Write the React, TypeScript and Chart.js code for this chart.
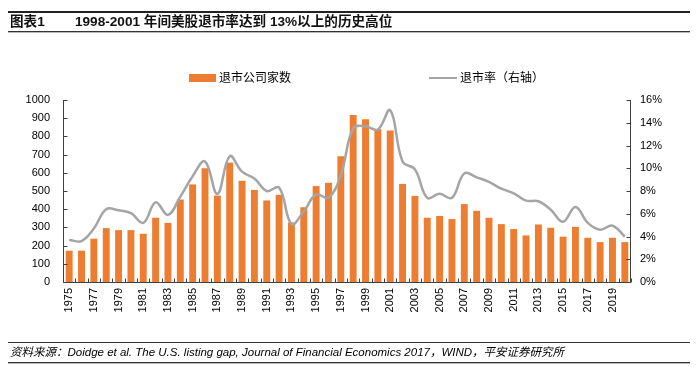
import React, { useEffect, useRef } from "react";
import { Chart, registerables } from "chart.js";
Chart.register(...registerables);

const years = [
  "1975", "1976", "1977", "1978", "1979", "1980", "1981", "1982", "1983", "1984",
  "1985", "1986", "1987", "1988", "1989", "1990", "1991", "1992", "1993", "1994",
  "1995", "1996", "1997", "1998", "1999", "2000", "2001", "2002", "2003", "2004",
  "2005", "2006", "2007", "2008", "2009", "2010", "2011", "2012", "2013", "2014",
  "2015", "2016", "2017", "2018", "2019", "2020",
];

const delistCount = [
  172, 172, 238, 296, 285, 285, 265, 353, 325, 453,
  536, 625, 475, 656, 556, 506, 448, 479, 327, 411,
  527, 545, 691, 918, 894, 839, 832, 539, 473, 353,
  363, 346, 428, 391, 353, 318, 291, 256, 316, 298,
  249, 303, 243, 219, 243, 219,
];

const delistRate = [
  3.7, 3.6, 4.7, 6.4, 6.3, 6.05, 5.2, 7.0, 5.9, 7.5,
  9.3, 10.6, 7.75, 11.05, 9.7, 9.1, 8.0, 8.3, 5.1, 6.2,
  7.7, 7.4, 9.4, 13.5, 13.7, 13.4, 15.1, 10.6, 9.9, 7.4,
  7.75, 7.4, 9.55, 9.2, 8.8, 8.2, 7.8, 7.15, 7.1, 6.35,
  5.3, 6.6, 5.2, 4.6, 4.95, 4.0,
];

const countTicks = [0, 100, 200, 300, 400, 500, 600, 700, 800, 900, 1000];
const rateTicks = [0, 2, 4, 6, 8, 10, 12, 14, 16];

const titleLabel = "图表1";
const titleText = "1998-2001 年间美股退市率达到 13%以上的历史高位";
const legendBar = "退市公司家数";
const legendLine = "退市率（右轴）";
const sourceText =
  "资料来源：Doidge et al. The U.S. listing gap, Journal of Financial Economics 2017，WIND，平安证券研究所";

const FONT = '"Liberation Sans", Arial, "Noto Sans CJK SC", sans-serif';
const CJK = '"Liberation Sans", "Noto Sans CJK SC", sans-serif';
const BAR = "#ED7D31";
const LINE = "#A5A5A5";
const AXIS = "#404040";

const axisPlugin = {
  id: "innerAxis",
  afterDraw(chart: any) {
    const { ctx, chartArea: a, scales } = chart;
    const x = scales.x;
    const y = scales.y;
    const y1 = scales.y1;
    ctx.save();
    ctx.strokeStyle = AXIS;
    ctx.lineWidth = 1;
    ctx.beginPath();
    const L = Math.round(a.left) + 0.5;
    const R = Math.round(a.right) - 0.5;
    const B = Math.round(a.bottom) + 0.5;
    ctx.moveTo(L, a.top);
    ctx.lineTo(L, B);
    ctx.lineTo(R, B);
    ctx.moveTo(R, a.top);
    ctx.lineTo(R, B);
    countTicks.forEach((v) => {
      const py = Math.round(y.getPixelForValue(v)) + 0.5;
      ctx.moveTo(L, py);
      ctx.lineTo(L + 4, py);
    });
    rateTicks.forEach((v) => {
      const py = Math.round(y1.getPixelForValue(v)) + 0.5;
      ctx.moveTo(R, py);
      ctx.lineTo(R - 4, py);
    });
    const n = years.length;
    const step = (a.right - a.left) / n;
    for (let i = 0; i <= n; i++) {
      const px = Math.round(x.getPixelForValue(0) - step / 2 + i * step) + 0.5;
      ctx.moveTo(px, B);
      ctx.lineTo(px, B - 4);
    }
    ctx.stroke();
    ctx.restore();
  },
};

export default function App() {
  const ref = useRef<HTMLCanvasElement>(null);
  useEffect(() => {
    if (!ref.current) return;
    const chart = new Chart(ref.current, {
      type: "bar",
      data: {
        labels: years,
        datasets: [
          {
            type: "line",
            label: legendLine,
            data: delistRate,
            yAxisID: "y1",
            borderColor: LINE,
            borderWidth: 2.5,
            pointRadius: 0,
            tension: 0.4,
            order: 0,
          } as any,
          {
            type: "bar",
            label: legendBar,
            data: delistCount,
            yAxisID: "y",
            backgroundColor: BAR,
            barPercentage: 0.56,
            categoryPercentage: 1,
            order: 1,
          },
        ],
      },
      options: {
        animation: false,
        responsive: false,
        maintainAspectRatio: false,
        layout: { padding: { top: 100, left: 0, right: 0, bottom: 0 } },
        plugins: { legend: { display: false }, tooltip: { enabled: false } },
        scales: {
          x: {
            offset: true,
            grid: { display: false, drawTicks: false },
            border: { display: false },
            ticks: {
              autoSkip: false,
              maxRotation: 90,
              minRotation: 90,
              padding: 6,
              color: "#000",
              font: { family: FONT, size: 11 },
              callback: (_v: any, i: number) => (i % 2 === 0 ? years[i] : ""),
            },
            afterFit: (s: any) => {
              s.height = 87;
            },
          },
          y: {
            position: "left",
            min: 0,
            max: 1000,
            grid: { display: false, drawTicks: false },
            border: { display: false },
            afterBuildTicks: (s: any) => {
              s.ticks = countTicks.map((v) => ({ value: v }));
            },
            ticks: {
              padding: 13,
              color: "#000",
              font: { family: FONT, size: 11 },
              callback: (v: any) => String(v),
            },
            afterFit: (s: any) => {
              s.width = 63;
            },
          },
          y1: {
            position: "right",
            min: 0,
            max: 16,
            grid: { display: false, drawTicks: false },
            border: { display: false },
            afterBuildTicks: (s: any) => {
              s.ticks = rateTicks.map((v) => ({ value: v }));
            },
            ticks: {
              padding: 9,
              color: "#000",
              font: { family: FONT, size: 11 },
              callback: (v: any) => v + "%",
            },
            afterFit: (s: any) => {
              s.width = 69;
            },
          },
        },
      },
      plugins: [axisPlugin],
    });
    return () => chart.destroy();
  }, []);

  return (
    <div
      style={{
        position: "fixed",
        left: 0,
        top: 0,
        width: 700,
        height: 369,
        background: "#fff",
        overflow: "hidden",
      }}
    >
      <canvas
        ref={ref}
        width={700}
        height={369}
        style={{ position: "absolute", left: 0, top: 0, width: 700, height: 369 }}
      />
      <div style={{ position: "absolute", left: 8, top: 11, width: 682, height: 2, background: "#222" }} />
      <div
        style={{
          position: "absolute",
          left: 10,
          top: 12,
          fontFamily: CJK,
          fontWeight: "bold",
          fontSize: 13.6,
          lineHeight: "20px",
          color: "#111",
          whiteSpace: "nowrap",
        }}
      >
        {titleLabel}
      </div>
      <div
        style={{
          position: "absolute",
          left: 75,
          top: 12,
          fontFamily: CJK,
          fontWeight: "bold",
          fontSize: 13.6,
          lineHeight: "20px",
          color: "#111",
          whiteSpace: "nowrap",
        }}
      >
        {titleText}
      </div>
      <div style={{ position: "absolute", left: 8, top: 31, width: 682, height: 1, background: "#333" }} />
      <div style={{ position: "absolute", left: 8, top: 32, width: 682, height: 1, background: "#bbb" }} />

      <div style={{ position: "absolute", left: 189, top: 74, width: 27, height: 8, background: BAR }} />
      <div
        style={{
          position: "absolute",
          left: 219,
          top: 70,
          fontFamily: CJK,
          fontSize: 12,
          lineHeight: "16px",
          color: "#000",
          whiteSpace: "nowrap",
        }}
      >
        {legendBar}
      </div>
      <div style={{ position: "absolute", left: 429, top: 77, width: 28, height: 2, background: LINE }} />
      <div
        style={{
          position: "absolute",
          left: 460,
          top: 70,
          fontFamily: CJK,
          fontSize: 12,
          lineHeight: "16px",
          color: "#000",
          whiteSpace: "nowrap",
        }}
      >
        {legendLine}
      </div>

      <div style={{ position: "absolute", left: 8, top: 342, width: 682, height: 1, background: "#333" }} />
      <div
        style={{
          position: "absolute",
          left: 10,
          top: 344,
          fontFamily: CJK,
          fontStyle: "italic",
          fontSize: 11.5,
          lineHeight: "16px",
          color: "#000",
          whiteSpace: "nowrap",
        }}
      >
        {sourceText}
      </div>
      <div style={{ position: "absolute", left: 8, top: 362, width: 682, height: 1, background: "#333" }} />
      <div style={{ position: "absolute", left: 8, top: 363, width: 682, height: 1, background: "#bbb" }} />
    </div>
  );
}
